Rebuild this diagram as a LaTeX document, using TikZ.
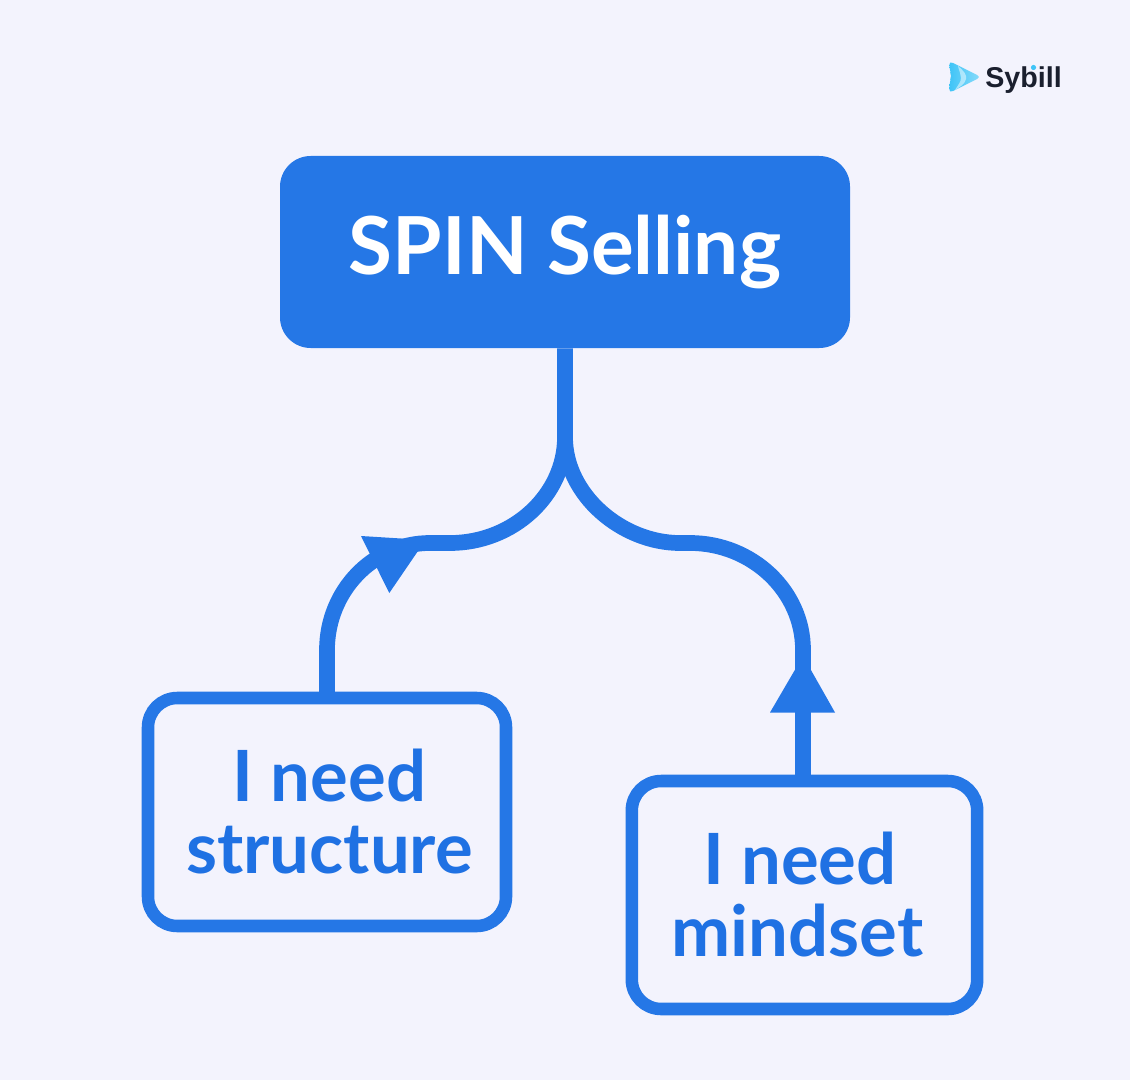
\documentclass[tikz,border=0pt]{standalone}
\usepackage{fontspec}
\setmainfont{Liberation Sans}
\newfontfamily\heavyfont{Lato}
\definecolor{bgc}{HTML}{F3F3FD}
\definecolor{blu}{HTML}{2577E6}
\definecolor{txtb}{HTML}{1F71E3}
\definecolor{ink}{HTML}{1A1F2E}
\definecolor{skyA}{HTML}{3FC4F7}
\definecolor{skyB}{HTML}{8ADCFB}
\tikzset{
  pickbox/.style={draw=blu,line width=9.4pt,fill=bgc,rounded corners=22pt,inner sep=0pt,
    text=txtb,align=center,font=\heavyfont\bfseries\fontsize{53}{55}\selectfont},
  conn/.style={draw=blu,line width=11.8pt},
}
\begin{document}
\begin{tikzpicture}[x=0.75pt,y=-0.75pt]
\useasboundingbox (0,0) rectangle (1130,1080);
\fill[bgc] (0,0) rectangle (1130,1080);
\node[minimum width=427.5pt,minimum height=144pt,fill=blu,rounded corners=23pt,text=white,inner sep=0pt,
  font=\heavyfont\bfseries\fontsize{60}{70}\selectfont] (spin) at (565,252) {\raisebox{-3pt}{SPIN Selling}};
\node[pickbox,minimum width=268.5pt,minimum height=171pt] (struct) at (327,812) {\kern3.8pt I need\\[-1pt]\kern3.8pt structure};
\node[pickbox,minimum width=259pt,minimum height=171pt] (mind) at (804.5,895) {I need\kern7pt\\[-1pt]mindset\kern10.5pt};
\coordinate (fork) at (565,437);
\coordinate (structup) at (327,650);
\coordinate (mindup) at (803,650);
\draw[conn] (spin.south) -- (fork)
  .. controls (565,495) and (513,543) .. (450,543) -- (430,543)
  .. controls (373,543) and (327,591) .. (structup) -- (327,692);
\draw[conn] (fork)
  .. controls (565,495) and (622,543) .. (680,543) -- (690,543)
  .. controls (752,543) and (803,591) .. (mindup) -- (803,775);
\fill[blu] (361,536) -- (425.5,540) -- (389.3,593) -- cycle;
\fill[blu] (803,656) -- (835,712.5) -- (770,712.5) -- cycle;
% logo
\shade[left color=skyA,right color=skyB,rounded corners=3pt] (949,61) -- (981,77) -- (949,93)
  -- (950,80) -- (952,76) -- (950,72) -- cycle;
\fill[white,opacity=.5] (958,66) .. controls (964,71) and (967,75) .. (966,79) .. controls (965,84) and (960,87) .. (955,90)
  .. controls (958,85) and (961,82) .. (961,78) .. controls (961,74) and (959,71) .. (958,66) -- cycle;
\node[anchor=base west,inner sep=0pt,text=ink,font=\fontsize{21.5}{24}\selectfont\bfseries] (logo) at (985,88) {Sybill};
\fill[skyA] (1033.5,67.5) circle (2.6);
\end{tikzpicture}
\end{document}
